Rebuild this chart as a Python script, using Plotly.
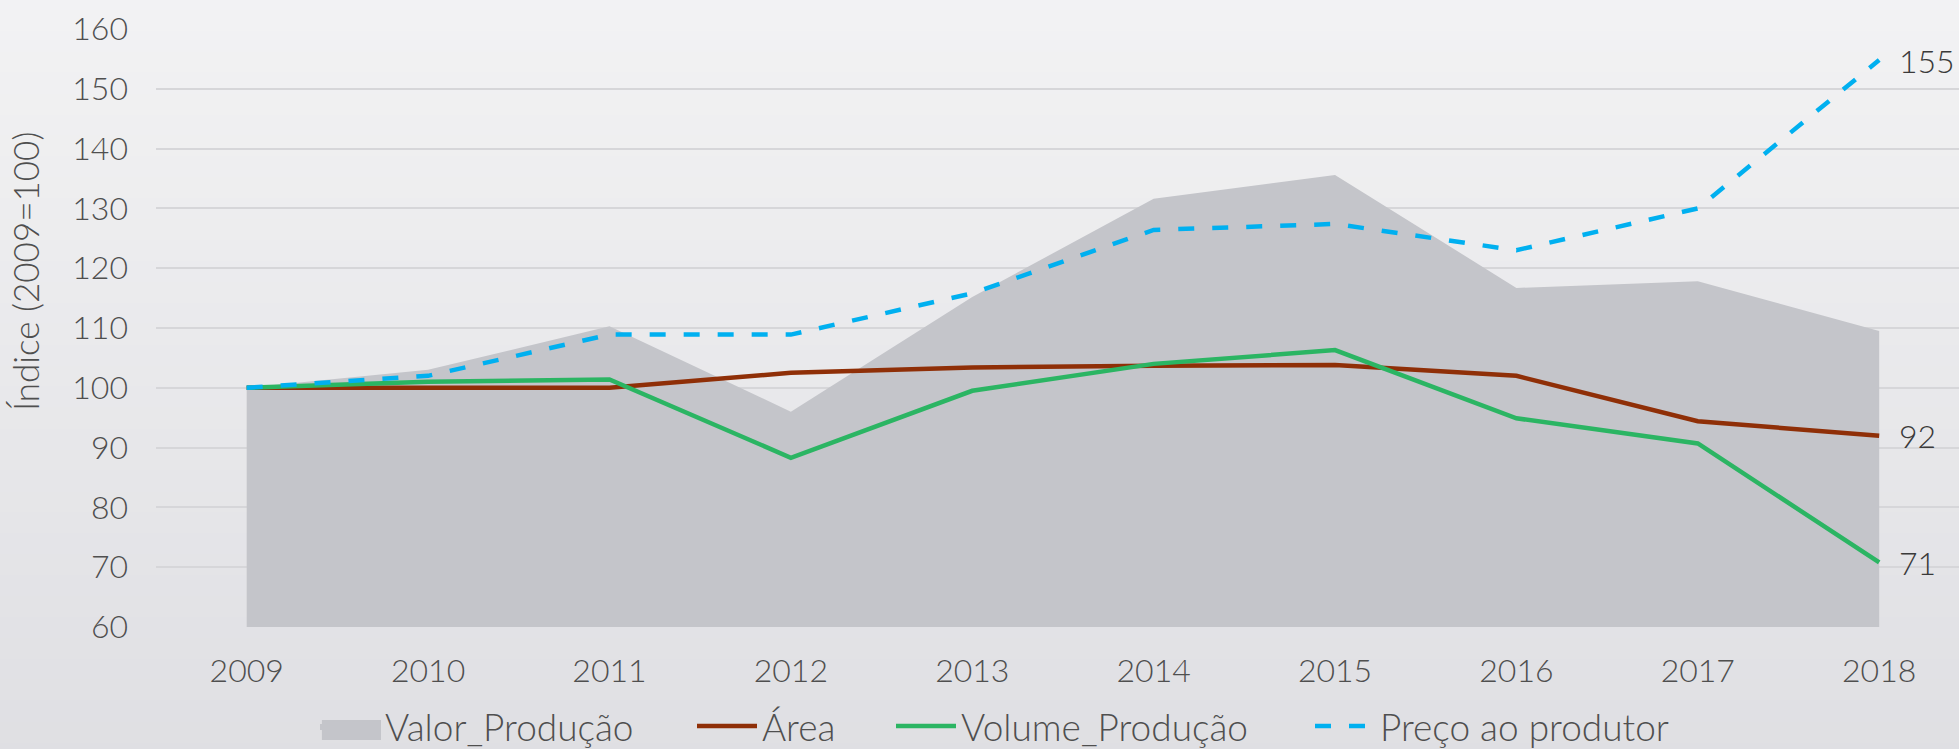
import plotly.graph_objects as go

years = [2009, 2010, 2011, 2012, 2013, 2014, 2015, 2016, 2017, 2018]
valor_producao = [100, 103, 110.3, 96, 115.2, 131.6, 135.6, 116.7, 117.8, 109.5]
area = [100, 100, 100, 102.5, 103.4, 103.7, 103.8, 102, 94.4, 92]
volume_producao = [100, 101, 101.4, 88.3, 99.5, 104, 106.3, 94.9, 90.7, 70.8]
preco_produtor = [100, 102, 108.9, 108.9, 115.8, 126.4, 127.4, 123, 130, 154.8]
y_ticks = [60, 70, 80, 90, 100, 110, 120, 130, 140, 150, 160]

FONT = "Lato"
TXT = "#4f4f4f"
W = 300
AREA_COLOR = "#c4c5ca"

fig = go.Figure()
fig.add_trace(go.Scatter(x=years, y=valor_producao, name="Valor_Produção", mode="lines",
                         line=dict(width=0, color=AREA_COLOR), fill="tozeroy",
                         fillcolor=AREA_COLOR, legend="legend"))
fig.add_trace(go.Scatter(x=years, y=area, name="Área", mode="lines",
                         line=dict(width=4.5, color="#8f2f07"), legend="legend2"))
fig.add_trace(go.Scatter(x=years, y=volume_producao, name="Volume_Produção", mode="lines",
                         line=dict(width=4.5, color="#2bb563"), legend="legend3"))
fig.add_trace(go.Scatter(x=years, y=preco_produtor, name="Preço ao produtor", mode="lines",
                         line=dict(width=4.5, color="#00b0f0", dash="16px,18px"),
                         legend="legend4"))

for series in (preco_produtor, area, volume_producao):
    fig.add_annotation(x=years[-1], y=series[-1], text=f"{round(series[-1])}",
                       showarrow=False, xanchor="left", xshift=18,
                       font=dict(family=FONT, size=32, color="#3a3a3a", weight=W))

fig.add_annotation(xref="paper", yref="paper", x=-0.0727, y=0.595,
                   text="Índice (2009=100)", textangle=-90, showarrow=False,
                   xanchor="center", yanchor="middle",
                   font=dict(family=FONT, size=35, color=TXT, weight=W))

# gradient background bands
top = (243, 243, 244)
bot = (222, 222, 226)
n = 40
for i in range(n):
    t = i / (n - 1)
    c = tuple(round(top[k] + (bot[k] - top[k]) * t) for k in range(3))
    fig.add_shape(type="rect", xref="paper", yref="paper", layer="below",
                  x0=-1, x1=2, y0=1.1 - (i + 1) * 1.4 / n, y1=1.1 - i * 1.4 / n + 0.002,
                  line=dict(width=0), fillcolor=f"rgb{c}")

# box-shaped legend key for the area series
fig.add_shape(type="rect", xref="paper", yref="paper", layer="above",
              x0=0.092, x1=0.1248, y0=-0.189, y1=-0.1555,
              line=dict(width=0), fillcolor=AREA_COLOR)

def leg(xpx):
    return dict(orientation="h", xref="container", x=xpx / 1959, xanchor="left",
                yref="container", y=0.03, yanchor="middle",
                font=dict(family=FONT, size=37, color=TXT, weight=W),
                bgcolor="rgba(0,0,0,0)", itemwidth=60)

fig.update_layout(
    width=1959, height=749,
    margin=dict(l=156, r=0, t=29, b=122, autoexpand=False),
    paper_bgcolor="#ebebed", plot_bgcolor="rgba(0,0,0,0)",
    font=dict(family=FONT, size=32, color=TXT, weight=W),
    showlegend=True,
    legend=leg(315), legend2=leg(692), legend3=leg(891), legend4=leg(1310),
    xaxis=dict(range=[2008.5, 2018.44], tickvals=years, showgrid=False, zeroline=False,
               showline=False, ticks="", ticklabelstandoff=22, automargin=False,
               tickfont=dict(family=FONT, size=32, color=TXT, weight=W)),
    yaxis=dict(range=[60, 160], tickvals=y_ticks, showgrid=True, gridcolor="#d6d6d9",
               gridwidth=1.5, zeroline=False, showline=False, ticks="",
               ticklabelstandoff=27, automargin=False,
               tickfont=dict(family=FONT, size=32, color=TXT, weight=W)),
)

fig.write_html("out.html", config={"displayModeBar": False},
               post_script="document.body.style.margin='0';document.body.style.overflow='hidden';")
